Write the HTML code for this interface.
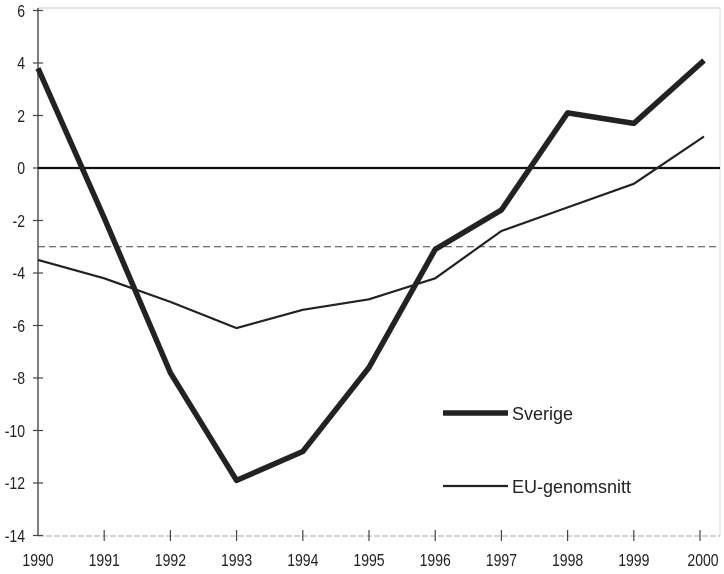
<!DOCTYPE html>
<html><head><meta charset="utf-8"><style>
html,body{margin:0;padding:0;background:#fff;width:724px;height:574px;overflow:hidden}
text{font-family:"Liberation Sans",sans-serif;fill:#222}
</style></head><body>
<svg width="724" height="574" viewBox="0 0 724 574" xmlns="http://www.w3.org/2000/svg">
<line x1="38" y1="8" x2="720" y2="8" stroke="#ccc" stroke-width="1"/>
<line x1="720" y1="8" x2="720" y2="536" stroke="#ddd" stroke-width="1"/>
<line x1="38" y1="536" x2="720" y2="536" stroke="#aaa" stroke-width="1" stroke-dasharray="6,2"/>
<line x1="38" y1="8" x2="38" y2="536" stroke="#555" stroke-width="1.5"/>
<g stroke="#444" stroke-width="1.2">
<line x1="33" y1="10.5" x2="43" y2="10.5"/><line x1="33" y1="63" x2="43" y2="63"/><line x1="33" y1="115.5" x2="43" y2="115.5"/><line x1="33" y1="168" x2="43" y2="168"/><line x1="33" y1="220.5" x2="43" y2="220.5"/><line x1="33" y1="273" x2="43" y2="273"/><line x1="33" y1="325.5" x2="43" y2="325.5"/><line x1="33" y1="378" x2="43" y2="378"/><line x1="33" y1="430.5" x2="43" y2="430.5"/><line x1="33" y1="483" x2="43" y2="483"/><line x1="33" y1="535.5" x2="43" y2="535.5"/>
<line x1="104.2" y1="530" x2="104.2" y2="541"/><line x1="170.4" y1="530" x2="170.4" y2="541"/><line x1="236.6" y1="530" x2="236.6" y2="541"/><line x1="302.8" y1="530" x2="302.8" y2="541"/><line x1="369" y1="530" x2="369" y2="541"/><line x1="435.2" y1="530" x2="435.2" y2="541"/><line x1="501.4" y1="530" x2="501.4" y2="541"/><line x1="567.6" y1="530" x2="567.6" y2="541"/><line x1="633.8" y1="530" x2="633.8" y2="541"/><line x1="700" y1="530" x2="700" y2="541"/>
</g>
<g font-size="18" text-anchor="end">
<text transform="translate(25,17) scale(0.78,1)">6</text><text transform="translate(25,69) scale(0.78,1)">4</text><text transform="translate(25,122) scale(0.78,1)">2</text><text transform="translate(25,174) scale(0.78,1)">0</text><text transform="translate(25,227) scale(0.78,1)">-2</text><text transform="translate(25,279) scale(0.78,1)">-4</text><text transform="translate(25,332) scale(0.78,1)">-6</text><text transform="translate(25,384) scale(0.78,1)">-8</text><text transform="translate(25,437) scale(0.78,1)">-10</text><text transform="translate(25,489) scale(0.78,1)">-12</text><text transform="translate(25,542) scale(0.78,1)">-14</text>
</g>
<g font-size="18" text-anchor="middle">
<text transform="translate(38,566) scale(0.78,1)">1990</text><text transform="translate(104.2,566) scale(0.78,1)">1991</text><text transform="translate(170.4,566) scale(0.78,1)">1992</text><text transform="translate(236.6,566) scale(0.78,1)">1993</text><text transform="translate(302.8,566) scale(0.78,1)">1994</text><text transform="translate(369,566) scale(0.78,1)">1995</text><text transform="translate(435.2,566) scale(0.78,1)">1996</text><text transform="translate(501.4,566) scale(0.78,1)">1997</text><text transform="translate(567.6,566) scale(0.78,1)">1998</text><text transform="translate(633.8,566) scale(0.78,1)">1999</text><text transform="translate(703,566) scale(0.78,1)">2000</text>
</g>
<line x1="38" y1="168" x2="720" y2="168" stroke="#111" stroke-width="2.2"/>
<line x1="38" y1="246.8" x2="720" y2="246.8" stroke="#444" stroke-width="1" stroke-dasharray="7,4"/>
<polyline fill="none" stroke="#222" stroke-width="2.2" stroke-linejoin="round" points="38,259.9 104.2,278.3 170.4,301.9 236.6,328.1 302.8,309.8 369,299.3 435.2,278.3 501.4,231 567.6,207.4 633.8,183.8 704,136.5"/>
<polyline fill="none" stroke="#222" stroke-width="5.5" stroke-linejoin="round" points="38,68.3 104.2,217.9 170.4,372.8 236.6,480.4 302.8,451.5 369,367.5 435.2,249.4 501.4,210 567.6,112.9 633.8,123.4 704,60.4"/>
<line x1="443" y1="413" x2="508" y2="413" stroke="#222" stroke-width="5.5"/>
<text x="512" y="420" font-size="18">Sverige</text>
<line x1="443" y1="486" x2="508" y2="486" stroke="#222" stroke-width="2.2"/>
<text x="512" y="493" font-size="18">EU-genomsnitt</text>
</svg>
</body></html>
